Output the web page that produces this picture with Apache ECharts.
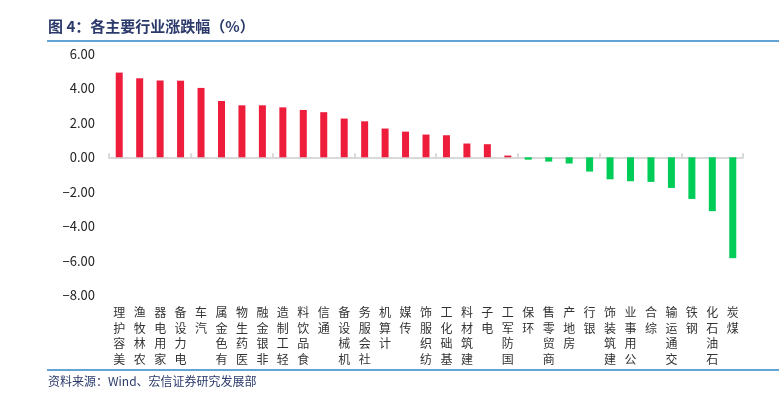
<!DOCTYPE html>
<html>
<head>
<meta charset="utf-8">
<script src="https://cdn.jsdelivr.net/npm/echarts@6/dist/echarts.min.js"></script>
<style>
  html, body { margin: 0; padding: 0; background: #fff; }
  #chart { width: 779px; height: 397px; }
</style>
</head>
<body>
<div id="chart"></div>
<script>
// 行业名称
const industries = ['美容护理', '农林牧渔', '家用电器', '电力设备', '汽车', '有色金属', '医药生物', '非银金融',
  '轻工制造', '食品饮料', '通信', '机械设备', '社会服务', '计算机', '传媒', '纺织服饰', '基础化工', '建筑材料',
  '电子', '国防军工', '环保', '商贸零售', '房地产', '银行', '建筑装饰', '公用事业', '综合', '交通运输', '钢铁',
  '石油石化', '煤炭']
// 涨跌幅 %
const changes = [4.92, 4.59, 4.46, 4.45, 4.03, 3.27, 3.02, 3.02, 2.90, 2.75, 2.62, 2.25, 2.09, 1.67, 1.49, 1.32,
  1.28, 0.80, 0.76, 0.10, -0.14, -0.25, -0.36, -0.83, -1.28, -1.39, -1.43, -1.78, -2.42, -3.13, -5.86]
const yMin = -8, yMax = 6, yStep = 2

const navy = '#2B3A6B'
const blue = '#2E86C8'
const font = '"Noto Sans CJK SC", "Noto Sans", sans-serif'

let myChart = echarts.init(document.getElementById('chart'))
let option = {
  animation: false,
  grid: { left: 109, right: 36, top: 54, bottom: 102 },
  graphic: [
    {
      type: 'text', left: 48, top: 19,
      style: { text: '图 4：各主要行业涨跌幅（%）', fill: navy, font: 'bold 15px ' + font }
    },
    {
      type: 'line', shape: { x1: 47, y1: 41, x2: 779, y2: 41 },
      style: { stroke: blue, lineWidth: 1.5 }
    },
    {
      type: 'line', shape: { x1: 47, y1: 370, x2: 779, y2: 370 },
      style: { stroke: blue, lineWidth: 1.5 }
    },
    {
      type: 'text', left: 48, top: 375,
      style: { text: '资料来源：Wind、宏信证券研究发展部', fill: navy, font: '12px ' + font }
    }
  ],
  xAxis: [{
      type: 'category',
      data: industries,
      position: 'bottom',
      axisLine: { show: false, onZero: false },
      axisTick: { show: false },
      axisLabel: {
        interval: 0,
        margin: 10,
        color: '#333',
        fontFamily: font,
        fontSize: 12,
        lineHeight: 15.5,
        verticalAlign: 'top',
        // 竖排文字 从下往上读
        formatter: function (v) {
          return v.split('').reverse().join('\n')
        }
      }
    },
    {
      type: 'category',
      data: industries,
      position: 'bottom',
      axisLine: { show: true, onZero: true, lineStyle: { color: '#D9D9D9', width: 2 } },
      axisTick: { show: true, inside: true, length: 4, lineStyle: { color: '#D9D9D9', width: 2 } },
      axisLabel: { show: false }
    }
  ],
  yAxis: {
    type: 'value',
    min: yMin,
    max: yMax,
    interval: yStep,
    axisLine: { show: false },
    axisTick: { show: false },
    splitLine: { show: false },
    axisLabel: {
      margin: 14,
      color: '#222',
      fontFamily: font,
      fontSize: 13,
      formatter: v => v.toFixed(2).replace('-', '−')
    }
  },
  series: [{
    type: 'bar',
    xAxisIndex: 0,
    barWidth: 7,
    data: changes.map(v => ({
      value: v,
      itemStyle: { color: v >= 0 ? '#EE1D3C' : '#00CC58' }
    }))
  }]
}
myChart.setOption(option)
</script>
</body>
</html>
